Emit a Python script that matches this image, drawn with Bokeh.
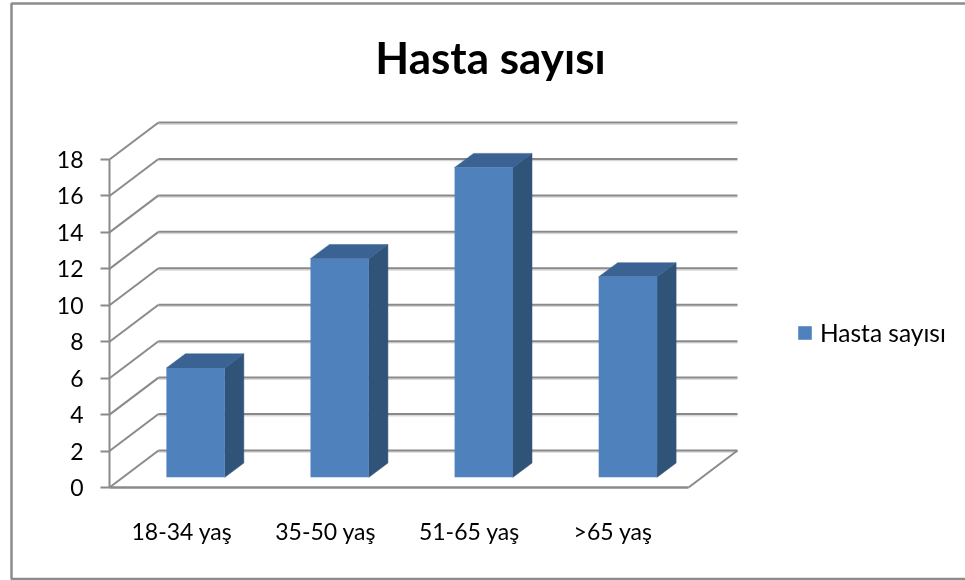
from bokeh.plotting import figure
from bokeh.models import (Range1d, LinearAxis, FixedTicker, Label, Legend, LegendItem)
from bokeh.embed import file_html
from bokeh.resources import INLINE

title_text = "Hasta sayısı"
categories = ["18-34 yaş", "35-50 yaş", "51-65 yaş", ">65 yaş"]
hasta_sayisi = [6, 12, 17, 11]
y_ticks = [0, 2, 4, 6, 8, 10, 12, 14, 16, 18]

W, H = 965, 580
X0, Y0 = 109.0, 487.0      # pixel of the front-left origin
PX_CAT = 144.75            # pixels per category
PX_UNIT = 18.22            # pixels per value unit
DEPTH_X = 49 / PX_CAT      # wall depth projected on x (in categories)
DEPTH_Y = 37 / PX_UNIT     # wall depth projected on y (in values)
BAR_HALF = 29.2 / PX_CAT
BAR_D0, BAR_D1 = 0.28, 0.668
BAR_STEP = 0.9955          # bar spacing, in categories
LABEL_STEP = 0.993         # label spacing, in categories

GRID = "#8a8a8a"
FRONT, SIDE, TOP = "#4f81bd", "#305378", "#3a6393"
FONT = "Lato"

px = lambda v: (v - X0) / PX_CAT
py = lambda v: (Y0 - v) / PX_UNIT

p = figure(width=W, height=H, output_backend="svg", toolbar_location=None, tools="",
           x_range=Range1d(px(0), px(W)), y_range=Range1d(py(H), py(0)),
           x_axis_location=None, y_axis_location=None,
           min_border=0, outline_line_color=None,
           background_fill_color="white", border_fill_color="white")
p.grid.visible = False
p.styles = {"position": "fixed", "left": "0", "top": "0"}

# chart-area frame (top, left, bottom)
p.line([px(W), px(11), px(11), px(W)], [py(3), py(3), py(578.5), py(578.5)],
       line_color="#8c8c8c", line_width=2.5)

n = len(categories)
# shadow below walls' lines, then lines: back wall + left wall diagonals
p.segment(x0=[DEPTH_X] * len(y_ticks), x1=[n + DEPTH_X] * len(y_ticks),
          y0=[t + DEPTH_Y - 1.6 / PX_UNIT for t in y_ticks],
          y1=[t + DEPTH_Y - 1.6 / PX_UNIT for t in y_ticks],
          line_color="#d9d9d9", line_width=1.5)
p.segment(x0=[DEPTH_X] * len(y_ticks), x1=[n + DEPTH_X] * len(y_ticks),
          y0=[t + DEPTH_Y for t in y_ticks], y1=[t + DEPTH_Y for t in y_ticks],
          line_color=GRID, line_width=2)
p.segment(x0=[0] * len(y_ticks), x1=[DEPTH_X] * len(y_ticks),
          y0=y_ticks, y1=[t + DEPTH_Y for t in y_ticks],
          line_color=GRID, line_width=2)
p.segment(x0=[n], x1=[n + DEPTH_X], y0=[0], y1=[DEPTH_Y],
          line_color=GRID, line_width=2)

# bars
centres = [i * BAR_STEP + 0.5 + BAR_D0 * DEPTH_X for i in range(n)]
base = BAR_D0 * 36.5 / PX_UNIT
dx = (BAR_D1 - BAR_D0) * DEPTH_X
dy = (BAR_D1 - BAR_D0) * 36.5 / PX_UNIT
lefts = [c - BAR_HALF for c in centres]
rights = [c + BAR_HALF for c in centres]
tops = [base + v for v in hasta_sayisi]

side_x = [[r, r + dx, r + dx, r] for r in rights]
side_y = [[base, base + dy, t + dy, t] for t in tops]
top_x = [[l, l + dx, r + dx, r] for l, r in zip(lefts, rights)]
top_y = [[t, t + dy, t + dy, t] for t in tops]
p.patches(side_x, side_y, fill_color=SIDE, line_color=SIDE, line_width=0.5)
p.patches(top_x, top_y, fill_color=TOP, line_color=TOP, line_width=0.5)
front = p.quad(left=lefts, right=rights, bottom=[base] * n, top=tops,
               fill_color=FRONT, line_color=None)

# axes
yaxis = LinearAxis(fixed_location=0, bounds=(0, 18),
                   ticker=FixedTicker(ticks=y_ticks),
                   axis_line_color=GRID, axis_line_width=2,
                   major_tick_line_color=GRID, major_tick_line_width=2,
                   major_tick_out=9, major_tick_in=0, minor_tick_line_color=None,
                   major_label_text_font=FONT, major_label_text_font_size="23px",
                   major_label_text_color="black", major_label_standoff=17)
p.add_layout(yaxis, "left")

xticks = [i * LABEL_STEP + 0.5 for i in range(n)]
xaxis = LinearAxis(fixed_location=0, bounds=(0, n),
                   ticker=FixedTicker(ticks=xticks),
                   major_label_overrides={t: c for t, c in zip(xticks, categories)},
                   axis_line_color=GRID, axis_line_width=2.5,
                   major_tick_line_color=None, minor_tick_line_color=None,
                   major_tick_out=0, major_tick_in=0,
                   major_label_text_font=FONT, major_label_text_font_size="23px",
                   major_label_text_color="black", major_label_standoff=29)
p.add_layout(xaxis, "below")

# title
p.add_layout(Label(x=px(490), y=py(56), text=title_text, text_font=FONT,
                   text_font_style="bold", text_font_size="44px", text_color="black",
                   text_align="center", text_baseline="middle"))

# legend
legend = Legend(items=[LegendItem(label=title_text, renderers=[front])],
                location=(796, 580 - 347), orientation="vertical",
                border_line_color=None, background_fill_alpha=0,
                glyph_width=17, glyph_height=17, label_standoff=7,
                padding=0, margin=0, spacing=0,
                label_text_font=FONT, label_text_font_size="24.5px",
                label_text_color="black")
p.add_layout(legend)

open("out.html", "w").write(file_html(p, INLINE))
